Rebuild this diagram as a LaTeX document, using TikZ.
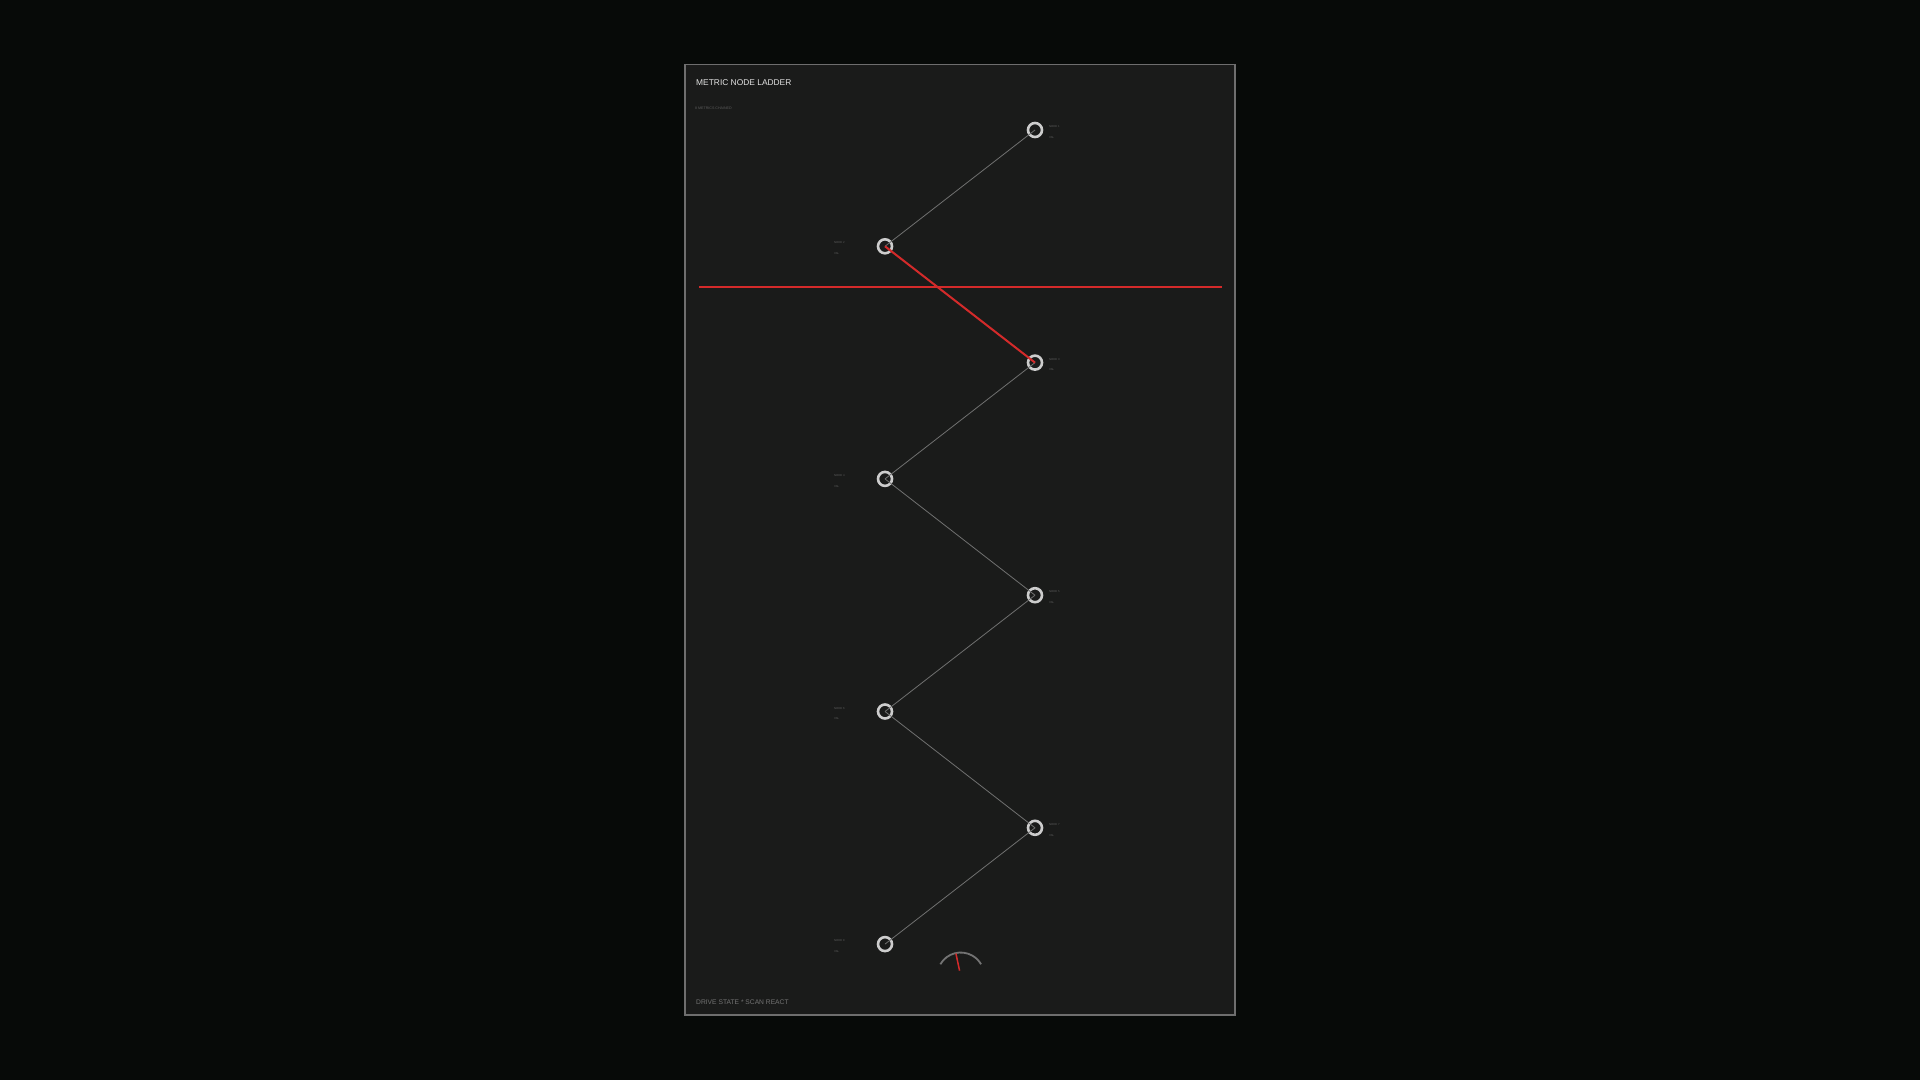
\documentclass[tikz,border=0pt]{standalone}
\usepackage{fontspec}
\setmainfont{Liberation Sans}
\usepackage{xcolor}
\usepackage{tikz}
\usetikzlibrary{calc}

\definecolor{bgdark}{HTML}{070A08}
\definecolor{panelbg}{HTML}{1A1B1A}
\definecolor{panelline}{HTML}{6E6E6E}
\definecolor{ringgray}{HTML}{CDCDCD}
\definecolor{linkgray}{HTML}{707070}
\definecolor{taggray}{HTML}{5C5C5C}
\definecolor{alertred}{HTML}{D42A2A}
\definecolor{titlegray}{HTML}{E2E2E2}
\definecolor{footgray}{HTML}{737373}

\begin{document}
\begin{tikzpicture}[x=1pt,y=-1pt]
        \tikzstyle{vertex} = [circle, minimum size=14pt, draw=ringgray, line width=2.6pt, inner sep=0pt]
        \tikzstyle{tag} = [font=\fontsize{2.8}{3}\selectfont, text=taggray, inner sep=0pt, anchor=west]
        \tikzstyle{link} = [draw=linkgray, line width=0.8pt]

        \useasboundingbox (0,0) rectangle (1920,1080);
        \fill[bgdark] (0,0) rectangle (1920,1080);
        \draw[panelline, line width=1.6pt, fill=panelbg] (685,64.5) rectangle (1235,1015);

        % heading and footer
        \node[font=\fontsize{8.4}{9}\selectfont, text=titlegray, inner sep=0pt, anchor=west] (title) at (696,82.7) {METRIC NODE LADDER};
        \node[font=\fontsize{3.6}{4}\selectfont, text=taggray, inner sep=0pt, anchor=west] (sub) at (695,108.3) {8 METRICS CHAINED};
        \node[font=\fontsize{6.7}{7}\selectfont, text=footgray, inner sep=0pt, anchor=west] (foot) at (696,1002) {DRIVE STATE * SCAN REACT};

        % ladder
        \foreach \i/\x/\dx in {1/1035/14,2/885/-51,3/1035/14,4/885/-51,5/1035/14,6/885/-51,7/1035/14,8/885/-51}
        {
                \node[vertex] (n\i) at (\x, {130+(\i-1)*116.3}) {};
                \node[tag] (t\i) at ($(n\i)+(\dx,-3.3)$) {NODE \i};
                \node[tag] (v\i) at ($(n\i)+(\dx,7.3)$) {VAL};
        }
        \foreach \i [evaluate=\i as \j using int(\i+1)] in {1,...,7}
        {
                \draw[link] (n\i.center)--(n\j.center);
        }
        \draw[alertred, line width=2pt] (n2.center)--(n3.center);

        % threshold
        \coordinate (thl) at (699,287);
        \coordinate (thr) at (1221.5,287);
        \draw[alertred, line width=1.8pt] (thl)--(thr);

        % gauge
        \coordinate (g) at (960.7,976);
        \draw[footgray, line width=1.8pt] ($(g)+(210:23.5)$) arc (210:330:23.5);
        \draw[alertred, line width=1.5pt] ($(g)+(258:5.5)$)--($(g)+(258:23)$);
\end{tikzpicture}
\end{document}
